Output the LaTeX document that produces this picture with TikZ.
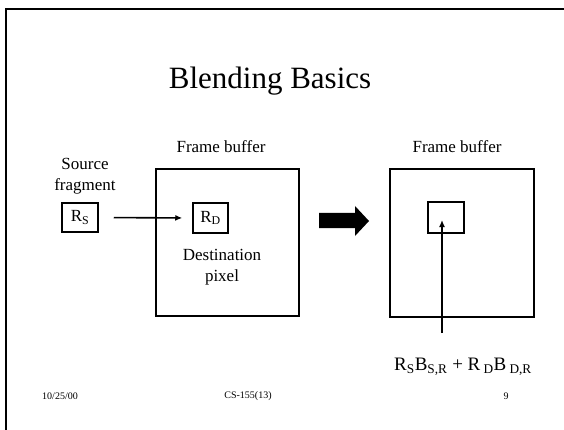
\documentclass[tikz,border=0pt]{standalone}
\usepackage{fontspec}
\setmainfont{Liberation Serif}
\usetikzlibrary{arrows.meta}
\newcommand{\sbx}[1]{\raisebox{-0.35ex}{\scriptsize #1}}
\begin{document}
\begin{tikzpicture}[x=1pt,y=-1pt,
  box/.style={draw,line width=1.5pt,inner sep=0pt},
  lbl/.style={font=\fontsize{17}{21}\selectfont,inner sep=0pt,align=center},
  foot/.style={font=\fontsize{10}{12}\selectfont,inner sep=0pt},
  conn/.style={line width=1.6pt,-{Latex[length=7pt,width=6pt]}}]
\useasboundingbox (0,0) rectangle (564,430);
\fill[white] (0,0) rectangle (564,430);
% slide frame
\draw[line width=2pt] (6,430) -- (6,9) -- (564,9);
% title
\node[inner sep=0pt,font=\fontsize{31}{36}\selectfont] (title) at (270,81) {Blending Basics};
% left panel
\node[lbl] (fb1) at (221,147) {Frame buffer};
\node[box,minimum width=143pt,minimum height=147pt] (big1) at (227.5,242.5) {};
\node[lbl,align=center] (src) at (85,176) {Source\\fragment};
\node[box,minimum width=36pt,minimum height=29pt,font=\fontsize{17}{19}\selectfont] (rs) at (80,217.5) {R\textsubscript{S}};
\node[box,minimum width=35pt,minimum height=30pt,font=\fontsize{17}{19}\selectfont] (rd) at (210.5,218) {R\textsubscript{D}};
\node[lbl] (dst) at (222,267) {Destination\\pixel};
\draw[conn,shorten <=15pt,shorten >=10pt] (rs.east) -- (rd.west);
% fat arrow
\fill (319,213) -- (355,213) -- (355,206) -- (369,221) -- (355,236) -- (355,228) -- (319,228) -- cycle;
% right panel
\node[lbl] (fb2) at (457,147) {Frame buffer};
\node[box,minimum width=144pt,minimum height=148pt] (big2) at (462,243) {};
\node[box,minimum width=36pt,minimum height=31pt] (px) at (446,217.5) {};
\coordinate (fstart) at (442,333);
\coordinate (fend) at (442,220);
\draw[conn] (fstart) -- (fend);
\node[inner sep=0pt,font=\fontsize{19}{22}\selectfont] (formula) at (463,367)
  {R\textsubscript{S}B\textsubscript{S,R} + R\,\textsubscript{D}B\,\textsubscript{D,R}};
% footer
\node[foot] (date) at (60,396) {10/25/00};
\node[foot] (course) at (248,396) {CS-155(13)};
\node[foot] (page) at (506,396) {9};
\end{tikzpicture}
\end{document}
